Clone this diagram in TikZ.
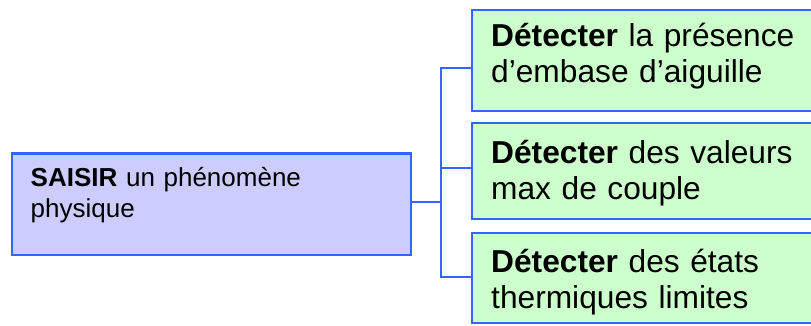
\documentclass[tikz,border=0pt]{standalone}
\usepackage{fontspec}
\setmainfont{Liberation Sans}
\definecolor{edgeblue}{HTML}{3366FF}
\definecolor{lilac}{HTML}{CCCCFF}
\definecolor{mint}{HTML}{CCFFCC}
\begin{document}
\begin{tikzpicture}[x=1pt,y=-1pt,
  boxbase/.style={draw=edgeblue,line width=2pt,inner sep=0pt,anchor=north west},
  rootbox/.style={boxbase,fill=lilac},
  leafbox/.style={boxbase,fill=mint},
  roottext/.style={anchor=base west,inner sep=0pt,text width=380pt,align=left,
    font=\fontsize{26}{31}\selectfont},
  leaftext/.style={anchor=base west,inner sep=0pt,text width=318pt,align=left,
    font=\fontsize{31.7}{36}\selectfont},
  link/.style={draw=edgeblue,line width=2pt}]
\useasboundingbox (0,0) rectangle (811,326);

% root function
\node[rootbox,minimum width=399pt,minimum height=101pt] (L) at (11,152.5) {};
\node[roottext] (Ltxt) at (30.5,186) {\textbf{SAISIR} un phénomène\\physique};

% sub-functions
\node[leafbox,minimum width=343pt,minimum height=101pt] (B1) at (470.5,9) {};
\node[leafbox,minimum width=343pt,minimum height=95.5pt] (B2) at (470.5,122.5) {};
\node[leafbox,minimum width=343pt,minimum height=89.5pt] (B3) at (470.5,232) {};

\node[leaftext] (T1) at (491,46.7) {\textbf{Détecter} la présence\\d’embase d’aiguille};
\node[leaftext] (T2) at (491,163.3) {\textbf{Détecter} des valeurs\\max de couple};
\node[leaftext] (T3) at (491,272.7) {\textbf{Détecter} des états\\thermiques limites};

% tree connectors
\coordinate (bus) at (440.7,170);
\draw[link] ([yshift=-7.2pt]B1.west) -| (bus) |- ([yshift=0.8pt]B3.west);
\draw[link] ([yshift=3pt]B2.west) -- ([yshift=3pt]B2.west -| bus);
\draw[link] ([yshift=2pt]L.east) -- ([yshift=2pt]L.east -| bus);
\end{tikzpicture}
\end{document}
